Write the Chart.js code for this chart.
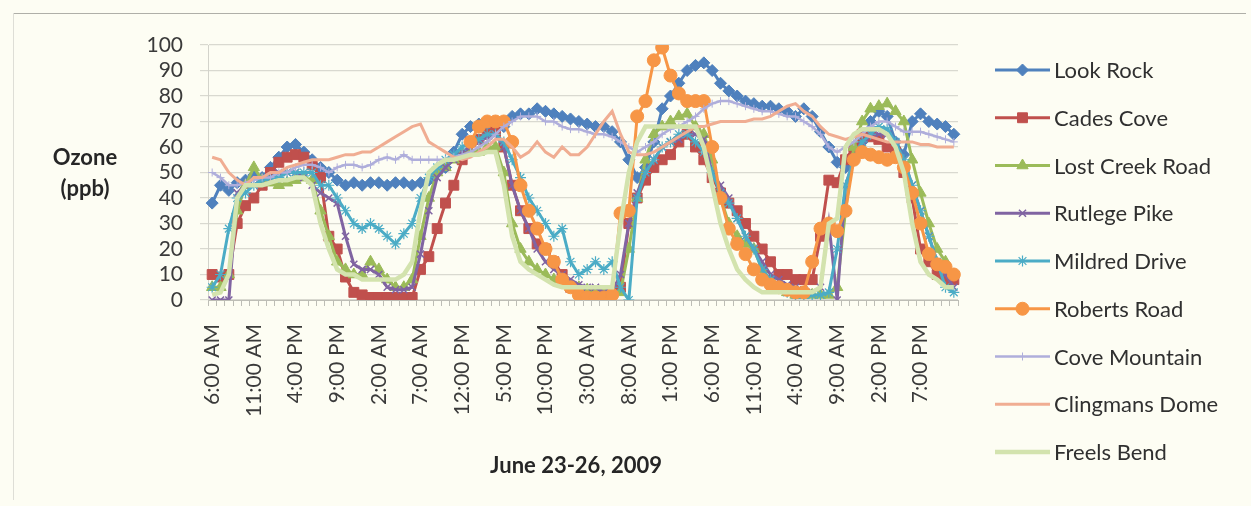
<!DOCTYPE html>
<html>
<head>
<meta charset="utf-8">
<title>Ozone, June 23-26, 2009</title>
<script src="https://cdn.jsdelivr.net/npm/chart.js@4.4.1/dist/chart.umd.min.js"></script>
<style>
  html, body { margin: 0; padding: 0; background: #FDFDF3; }
  canvas { display: block; }
</style>
</head>
<body>
<canvas id="ozone" width="1251" height="506" style="width:1251px;height:506px"></canvas>
<script>
// Hour-of-day labels; the record runs hourly from 6:00 AM June 23 to 11:00 PM June 26
const hours = ['12:00 AM','1:00 AM','2:00 AM','3:00 AM','4:00 AM','5:00 AM','6:00 AM','7:00 AM',
  '8:00 AM','9:00 AM','10:00 AM','11:00 AM','12:00 PM','1:00 PM','2:00 PM','3:00 PM','4:00 PM',
  '5:00 PM','6:00 PM','7:00 PM','8:00 PM','9:00 PM','10:00 PM','11:00 PM'];
const categories = hours.slice(6).concat(hours, hours, hours);

const siteNames = ['Look Rock','Cades Cove','Lost Creek Road','Rutlege Pike','Mildred Drive',
  'Roberts Road','Cove Mountain','Clingmans Dome','Freels Bend'];

const yTicks = [0,10,20,30,40,50,60,70,80,90,100];

// Hourly ozone, ppb
const lookRock = [38,45,43,46,47,49,48,52,56,60,
  61,58,55,52,50,47,45,46,45,46,
  46,45,46,46,45,46,47,50,52,58,
  65,68,69,68,67,68,72,73,73,75,
  74,73,72,71,70,69,68,68,66,62,
  55,48,52,62,75,80,85,90,92,93,
  90,85,82,80,78,77,76,76,75,74,
  72,75,72,66,60,54,52,56,62,70,
  74,72,62,57,70,73,70,69,68,65];

const cadesCove = [10,9,10,30,37,40,45,50,54,56,
  57,56,53,48,25,20,9,3,2,1,
  1,1,1,1,1,12,17,28,38,45,
  55,62,63,65,66,60,45,35,28,22,
  20,15,10,5,3,2,2,2,3,5,
  30,40,47,52,55,57,62,65,60,55,
  48,42,38,35,30,25,20,15,10,10,
  8,8,8,25,47,46,55,60,65,64,
  63,60,58,50,40,20,15,10,8,8];

const lostCreekRoad = [5,5,10,35,45,52,47,46,45,46,
  47,48,47,35,25,15,12,10,10,15,
  12,8,5,5,8,25,40,50,52,55,
  57,58,58,60,60,50,30,20,15,12,
  10,8,7,5,5,4,3,3,3,3,
  20,40,55,65,68,70,72,73,68,65,
  55,40,30,25,22,20,12,8,5,3,
  2,2,2,2,2,5,35,60,70,75,
  76,77,74,70,55,42,30,20,15,10];

const rutlegePike = [0,0,0,42,45,45,47,48,50,50,
  50,48,45,42,40,38,25,14,12,12,
  10,5,4,4,5,18,35,48,52,55,
  58,60,62,64,65,60,45,35,28,20,
  15,12,10,8,6,5,5,3,3,10,
  30,42,50,55,60,62,63,65,65,63,
  50,45,40,32,25,20,15,10,8,6,
  5,4,3,5,30,0,45,55,60,65,
  65,65,62,55,45,35,25,15,10,5];

const mildredDrive = [5,10,28,40,42,45,47,48,48,50,
  50,50,50,45,45,40,35,30,28,30,
  28,25,22,26,30,40,48,52,55,57,
  60,62,63,65,65,62,55,48,40,35,
  30,25,28,15,10,12,15,12,15,5,
  0,40,50,55,60,62,65,65,62,58,
  50,42,38,32,25,20,12,8,5,3,
  2,2,2,2,3,20,45,55,62,65,
  68,67,62,55,45,35,25,15,5,3];

const robertsRoad = [null,null,null,null,null,null,null,null,null,null,
  null,null,null,null,null,null,null,null,null,null,
  null,null,null,null,null,null,null,null,null,null,
  null,62,68,70,70,70,62,45,35,28,
  20,15,8,5,2,1,1,1,2,34,
  35,72,78,94,99,88,81,78,78,78,
  60,40,28,22,18,12,8,6,5,4,
  3,3,15,28,30,27,35,55,58,57,
  56,55,56,52,42,30,18,14,13,10];

const coveMountain = [50,48,45,45,46,47,48,48,50,50,
  52,53,53,52,50,52,53,53,52,53,
  55,56,55,57,55,55,55,55,55,56,
  57,58,60,62,65,68,70,72,72,72,
  70,70,68,67,67,66,65,65,64,62,
  60,58,60,62,65,67,68,70,72,75,
  77,78,78,77,76,75,74,74,73,72,
  72,70,68,65,60,58,60,62,65,68,
  70,70,68,66,66,66,65,64,63,62];

const clingmansDome = [56,55,50,47,45,48,48,50,50,52,
  53,54,55,55,55,56,57,57,58,58,
  60,62,64,66,68,69,62,60,58,56,
  55,56,58,60,63,63,60,56,58,62,
  58,56,60,57,57,60,65,70,74,65,
  58,57,57,58,60,62,64,66,68,68,
  69,70,70,70,70,71,71,72,74,76,
  77,74,72,68,65,64,63,64,65,64,
  63,62,62,62,62,61,61,60,60,60];

const freelsBend = [2,3,10,40,45,45,45,46,47,47,
  48,48,45,30,20,12,10,10,8,8,
  8,8,8,10,15,35,50,53,55,55,
  56,57,57,58,58,45,25,15,12,10,
  8,6,5,5,5,5,5,5,5,30,
  50,62,68,68,68,68,68,68,68,60,
  45,30,20,12,8,5,3,3,3,3,
  3,3,3,5,30,32,60,65,67,67,
  67,65,60,50,30,15,10,8,5,5];

const seriesValues = [lookRock, cadesCove, lostCreekRoad, rutlegePike, mildredDrive,
  robertsRoad, coveMountain, clingmansDome, freelsBend];

// Line and marker look for each site
const looks = [
  { color: '#4F81BD', marker: 'rectRot',  radius: 6,   width: 3,   mborder: 1 },
  { color: '#C0504D', marker: 'rect',     radius: 7,   width: 3,   mborder: 1 },
  { color: '#9BBB59', marker: 'triangle', radius: 6.5, width: 3,   mborder: 1 },
  { color: '#8064A2', marker: 'crossRot', radius: 5,   width: 3,   mborder: 1.5 },
  { color: '#4BACC6', marker: 'star',     radius: 5.5, width: 3,   mborder: 1.2 },
  { color: '#F79646', marker: 'circle',   radius: 6.5, width: 3,   mborder: 1 },
  { color: '#AFAEDB', marker: 'cross',    radius: 4,   width: 2.5, mborder: 1 },
  { color: '#F0AD92', marker: false,      radius: 0,   width: 3,   mborder: 0 },
  { color: '#D3E3AE', marker: false,      radius: 0,   width: 4.5, mborder: 0 }
];

const datasets = siteNames.map((name, i) => ({
  label: name,
  data: seriesValues[i],
  borderColor: looks[i].color,
  backgroundColor: looks[i].color,
  borderWidth: looks[i].width,
  pointStyle: looks[i].marker,
  pointRadius: looks[i].radius,
  pointBorderWidth: looks[i].mborder,
  pointBorderColor: looks[i].color,
  pointBackgroundColor: looks[i].color,
  tension: 0,
  spanGaps: false,
  order: siteNames.length - 1 - i
}));

const FONT = 'Lato, "Open Sans", sans-serif';

const decorations = {
  id: 'decorations',
  beforeDraw(chart) {
    const ctx = chart.ctx;
    ctx.save();
    ctx.fillStyle = '#FDFDF3';
    ctx.fillRect(0, 0, chart.width, chart.height);
    ctx.strokeStyle = '#AFAFA8';
    ctx.lineWidth = 1.2;
    ctx.beginPath(); ctx.moveTo(13, 13.5); ctx.lineTo(1246, 13.5); ctx.stroke();
    ctx.strokeStyle = '#DEDED6';
    ctx.lineWidth = 1;
    ctx.beginPath(); ctx.moveTo(13.5, 13); ctx.lineTo(13.5, 500); ctx.stroke();
    ctx.restore();
  },
  afterDraw(chart) {
    const ctx = chart.ctx;
    const area = chart.chartArea;
    ctx.save();
    // axis titles
    ctx.fillStyle = '#262626';
    ctx.font = 'bold 22px ' + FONT;
    ctx.textAlign = 'center';
    ctx.textBaseline = 'middle';
    ctx.fillText('Ozone', 85, 158);
    ctx.fillText('(ppb)', 85, 189);
    ctx.fillText('June 23-26, 2009', (area.left + area.right) / 2 - 7, 466);

    // legend: line sample with marker, then the site name
    const x0 = 995, x1 = 1050, top = 70, step = 47.75;
    ctx.textAlign = 'left';
    ctx.font = '22px ' + FONT;
    chart.data.datasets.forEach((ds, i) => {
      const y = top + i * step;
      ctx.strokeStyle = ds.borderColor;
      ctx.lineWidth = ds.borderWidth;
      ctx.beginPath(); ctx.moveTo(x0, y); ctx.lineTo(x1, y); ctx.stroke();
      if (ds.pointStyle) {
        ctx.fillStyle = ds.pointBackgroundColor;
        ctx.strokeStyle = ds.pointBorderColor;
        ctx.lineWidth = ds.pointBorderWidth;
        Chart.helpers.drawPoint(ctx, {
          pointStyle: ds.pointStyle, rotation: 0,
          radius: ds.pointRadius, borderWidth: ds.pointBorderWidth
        }, (x0 + x1) / 2, y);
      }
      ctx.fillStyle = '#303030';
      ctx.fillText(ds.label, 1054, y + 1);
    });
    ctx.restore();
  }
};

new Chart(document.getElementById('ozone'), {
  type: 'line',
  data: { labels: categories, datasets },
  plugins: [decorations],
  options: {
    responsive: false,
    animation: false,
    devicePixelRatio: 1,
    layout: { padding: { left: 0, right: 293, top: 45, bottom: 0 } },
    plugins: { legend: { display: false }, tooltip: { enabled: false } },
    scales: {
      x: {
        type: 'category',
        offset: true,
        afterFit(scale) { scale.height = 206; },
        grid: { offset: true, drawOnChartArea: false, drawTicks: true, tickLength: 6, color: '#BDBDB6' },
        border: { color: '#BDBDB6', width: 1 },
        ticks: {
          autoSkip: false, maxRotation: 90, minRotation: 90, padding: 18,
          color: '#3A3A3A', font: { family: FONT, size: 21 },
          callback: (v, i) => (i % 5 === 0 ? categories[i] : '')
        }
      },
      y: {
        min: yTicks[0], max: yTicks[yTicks.length - 1],
        afterFit(scale) { scale.width = 208; },
        afterBuildTicks(scale) { scale.ticks = yTicks.map(v => ({ value: v })); },
        grid: { color: '#D9D9D0', tickLength: 8, lineWidth: 1.2 },
        border: { color: '#D3D3CB', width: 1 },
        ticks: { autoSkip: false, padding: 17, color: '#3A3A3A', font: { family: FONT, size: 21 } }
      }
    }
  }
});
</script>
</body>
</html>
